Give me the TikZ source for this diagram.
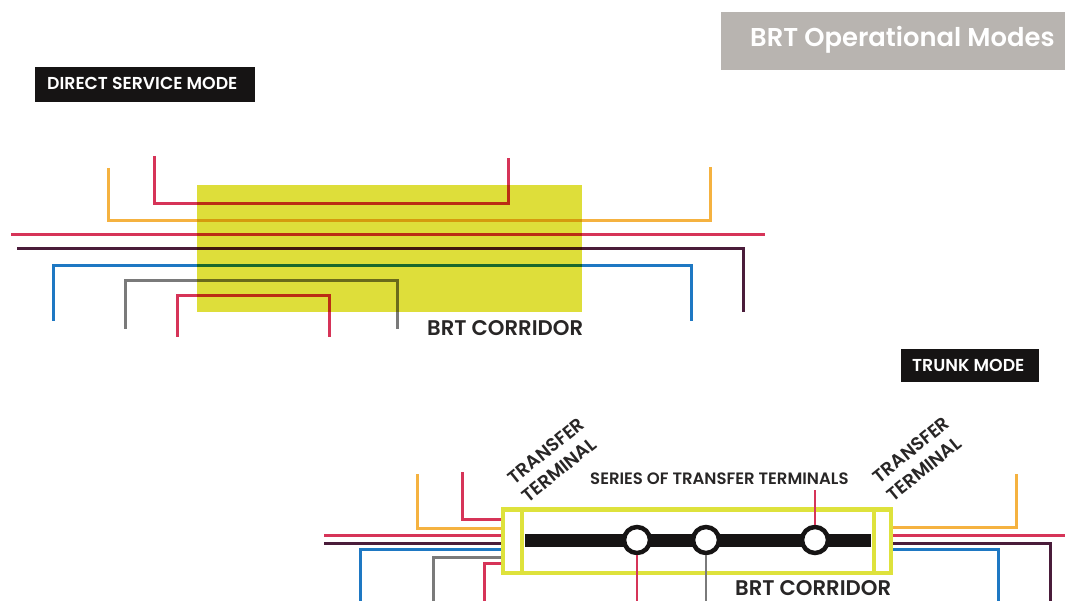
\documentclass[tikz,border=0pt]{standalone}
\usepackage{fontspec}
\setmainfont{Poppins}
\newfontfamily\med{Poppins SemiBold}
\definecolor{cred}{RGB}{214,52,88}
\definecolor{corange}{RGB}{245,178,64}
\definecolor{cpurple}{RGB}{74,28,58}
\definecolor{cblue}{RGB}{30,120,195}
\definecolor{cgray}{RGB}{122,122,122}
\definecolor{clime}{RGB}{222,222,58}
\definecolor{cyel}{RGB}{222,226,60}
\definecolor{headgray}{RGB}{184,180,176}
\definecolor{cblack}{RGB}{22,20,20}
\definecolor{ctext}{RGB}{40,38,38}
\tikzset{
  route/.style={line width=3pt, line cap=butt, line join=miter},
  stem/.style={line width=2.6pt, line cap=butt},
  lbl/.style={inner sep=0pt, anchor=base west, text=ctext},
  tag/.style={inner sep=0pt, anchor=base west, text=white},
  stop/.style={circle, draw=cblack, line width=4.5pt, fill=white, minimum size=26pt, inner sep=0pt},
  tterm/.style={rotate=39, inner sep=0pt, text=ctext, font=\med\fontsize{18.5}{20}\selectfont},
}
\begin{document}
\begin{tikzpicture}[x=1pt,y=-1pt]
\useasboundingbox (0,0) rectangle (1065,601);

% ---------- header ----------
\fill[headgray] (721,12) rectangle (1065,70);
\node[tag, font=\med\fontsize{25.8}{27}\selectfont] (title) at (750,47) {BRT Operational Modes};

% ---------- direct service mode ----------
\fill[cblack] (35,67) rectangle (255,102);
\node[tag, font=\med\fontsize{17.3}{18}\selectfont] (dsm) at (47,89.5) {DIRECT SERVICE MODE};

\draw[route,cred] (154,156) |- (508,204) -- (508,158);
\draw[route,corange] (108,168) |- (710,221) -- (710,167);
\draw[route,cred] (11,235) -- (765,235);
\draw[route,cpurple] (17,249) -| (743,312);
\draw[route,cblue] (53,321) |- (691,266) -- (691,321);
\draw[route,cgray] (125,329) |- (397,281) -- (397,329);
\draw[route,cred] (177,337) |- (329,296) -- (329,337);
\fill[clime, blend mode=multiply] (197,185) rectangle (582,312);
\node[lbl, font=\med\fontsize{21.2}{22}\selectfont] (c1) at (427,335.5) {BRT CORRIDOR};

% ---------- trunk mode ----------
\fill[cblack] (901,349) rectangle (1039,382);
\node[tag, font=\med\fontsize{17.3}{18}\selectfont] (tm) at (912,371.5) {TRUNK MODE};

\draw[line width=13pt, cblack] (525,540) -- (871,540);
\draw[cyel, line width=4.5pt] (503,509.5) rectangle (891,573);
\draw[cyel, line width=4pt] (522,509.5) -- (522,573);
\draw[cyel, line width=4pt] (874,509.5) -- (874,573);
\coordinate (lw) at (501,541);
\coordinate (re) at (893,541);

\node[stop] (s1) at (637,540) {};
\node[stop] (s2) at (706,540) {};
\node[stop] (s3) at (815,540) {};
\draw[stem,cred] (s1.south) -- (637,601);
\draw[stem,cgray] (s2.south) -- (706,601);
\draw[stem,cred] (s3.north) -- (815,490);

% left feeders
\draw[route,corange] (417,474) |- (lw |- 0,528);
\draw[route,cred] (462,472) |- (lw |- 0,519);
\draw[route,cred] (324,535) -- (lw |- 0,535);
\draw[route,cpurple] (324,543) -- (lw |- 0,543);
\draw[route,cblue] (360,601) |- (lw |- 0,549);
\draw[route,cgray] (433,601) |- (lw |- 0,557);
\draw[route,cred] (484,601) |- (lw |- 0,563);
% right feeders
\draw[route,corange] (re |- 0,527) -| (1016,474);
\draw[route,cred] (re |- 0,535) -- (1065,535);
\draw[route,cpurple] (re |- 0,543) -| (1050,601);
\draw[route,cblue] (re |- 0,549) -| (998,601);

\node[lbl, font=\med\fontsize{16.5}{17}\selectfont] (series) at (590,484) {SERIES OF TRANSFER TERMINALS};
\node[lbl, font=\med\fontsize{21.2}{22}\selectfont] (c2) at (735,595) {BRT CORRIDOR};
\node[tterm] (tt1a) at (546,451) {TRANSFER};
\node[tterm] (tt1b) at (559,470) {TERMINAL};
\node[tterm] (tt2a) at (911,450) {TRANSFER};
\node[tterm] (tt2b) at (924,469) {TERMINAL};
\end{tikzpicture}
\end{document}
